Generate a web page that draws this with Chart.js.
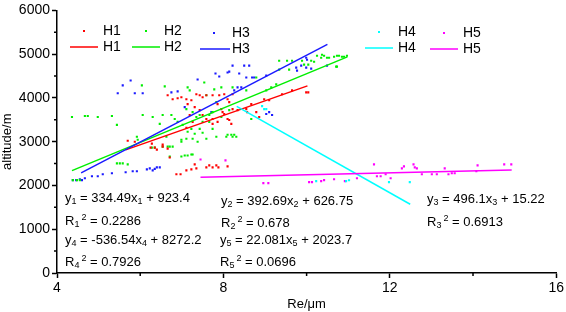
<!DOCTYPE html>
<html>
<head>
<meta charset="utf-8">
<script src="https://cdn.jsdelivr.net/npm/chart.js@4"></script>
<style>
  html, body { margin: 0; padding: 0; background: #fff; }
</style>
</head>
<body>
<canvas id="chart" width="566" height="312"></canvas>
<script>
const seriesNames = ["H1", "H2", "H3", "H4", "H5"];
const seriesColors = ["#ff0000", "#00ee00", "#1a1aff", "#00ffff", "#ff00ff"];

// scatter points, [Re (um), altitude (m)]
const h1Points = [
    [6.66, 4061], [6.78, 3971], [6.90, 3993], [6.99, 4016], [7.11, 3971], [7.23, 3948], [7.35, 4083],
    [7.43, 4061], [7.50, 4016], [7.59, 4061], [7.74, 4061], [7.90, 4061], [8.02, 4083], [8.10, 3971],
    [8.22, 4083], [7.86, 3858], [8.14, 3903], [7.14, 3858], [7.31, 3790],
    [7.19, 3610], [7.43, 3722], [7.50, 3610], [7.59, 3519], [7.26, 3452], [7.11, 3316], [7.74, 3407],
    [7.86, 3452], [8.10, 3519], [8.19, 3407], [8.22, 3745], [7.98, 3677], [8.55, 3745], [8.79, 3677],
    [8.86, 3564], [7.95, 3745], [8.02, 3632], [8.14, 3497], [8.34, 3722], [8.57, 3677], [8.67, 3858],
    [8.98, 3971], [9.10, 3948], [9.41, 4083], [9.65, 4174], [9.99, 4128], [10.04, 4128], [7.74, 3519],
    [5.70, 3023], [5.87, 3000], [6.25, 2865], [6.35, 2865], [6.40, 2820], [6.54, 2888], [6.66, 2843],
    [6.71, 2640], [6.28, 2955], [6.54, 2933],
    [6.87, 2256], [6.97, 2256], [7.11, 2346], [7.23, 2369], [7.31, 2482], [7.35, 2391], [7.59, 2414],
    [7.66, 2459], [7.74, 2414], [7.83, 2459], [7.88, 2414], [8.10, 2436]
];
const h2Points = [
    [4.36, 3564], [4.67, 3587], [4.74, 3587], [4.98, 3564], [5.32, 3587], [5.44, 3384], [6.04, 4286],
    [6.06, 3610], [5.92, 3113], [5.94, 3046], [6.30, 3564], [6.54, 3610], [6.59, 4264], [6.47, 3407],
    [6.75, 3610], [6.83, 3519], [6.63, 3113], [6.71, 2888], [6.78, 2888], [6.99, 3000], [6.90, 3452],
    [7.02, 3384],
    [7.14, 4241], [7.19, 4174], [7.26, 3677], [7.11, 3745], [7.35, 3564], [7.23, 3294], [7.31, 3181],
    [7.11, 3068], [7.38, 3000], [7.50, 3204], [7.59, 3068], [7.54, 4354], [7.78, 4196], [7.83, 3903],
    [7.83, 3113], [8.07, 3113], [8.22, 3113], [8.31, 3113], [8.22, 4241], [8.55, 4174], [8.79, 4467],
    [8.67, 3519], [8.14, 3722], [7.74, 3677], [7.66, 3452], [7.43, 3610], [7.95, 3564], [7.95, 4241],
    [7.59, 4061], [9.03, 4174], [9.15, 4241], [9.27, 4309], [9.34, 4647], [9.58, 4647], [9.65, 4850],
    [9.34, 4850], [7.43, 3294], [7.74, 3294], [8.10, 3158], [8.19, 3158], [8.26, 3158], [7.14, 3226],
    [7.26, 3068], [6.99, 3046], [7.50, 3452], [7.66, 3610],
    [9.53, 4850], [9.89, 4850], [9.94, 4760], [10.11, 4850], [10.18, 4828], [10.25, 4963], [10.35, 4918],
    [10.37, 4986], [10.42, 4963], [10.49, 4918], [10.54, 4918], [10.66, 4941], [10.73, 4963], [10.78, 4963],
    [10.85, 4941], [10.90, 4941], [10.97, 4963], [10.71, 4715], [10.73, 4715], [10.04, 4760],
    [6.71, 2662], [6.99, 2662], [7.07, 2685], [7.14, 2685], [7.23, 2707], [7.26, 2707],
    [6.28, 2865], [6.35, 2865], [6.54, 2888], [6.66, 2888],
    [4.38, 2121], [4.48, 2121], [4.55, 2121], [5.44, 2504], [5.51, 2504], [5.58, 2504], [5.70, 2482]
];
const h3Points = [
    [5.58, 4286], [5.77, 4399], [5.46, 4106], [5.87, 4106], [6.06, 4106], [6.75, 4128], [6.90, 4151],
    [7.38, 4422], [7.81, 4557], [7.90, 4489], [8.14, 4602], [8.22, 4738], [8.38, 4557], [8.50, 4738],
    [8.62, 4738], [8.55, 4467], [8.69, 4467], [8.34, 4241], [8.26, 4174], [7.71, 3677], [7.07, 3790],
    [9.03, 3632], [9.17, 3610], [9.10, 3677], [9.03, 4512], [8.74, 4467], [8.10, 4580], [8.43, 4241],
    [9.99, 4918], [10.01, 4873], [9.75, 4692], [9.87, 4738], [9.99, 4692], [10.11, 4670], [9.77, 4625],
    [10.49, 4738],
    [4.38, 2121], [4.46, 2121], [4.55, 2143], [4.60, 2121], [4.67, 2166], [4.84, 2211], [4.98, 2211],
    [5.10, 2256], [5.32, 2279], [5.65, 2301], [5.82, 2324], [5.92, 2324], [6.16, 2369], [6.23, 2391],
    [6.30, 2346], [6.40, 2414], [6.47, 2414], [6.35, 2380]
];
const h4Points = [
    [8.93, 3813], [8.98, 3745], [9.03, 3745], [10.23, 2098], [10.95, 2098], [11.02, 2120],
    [11.98, 2075], [12.48, 2075]
];
const h5Points = [
    [7.45, 2594], [8.05, 2572], [8.96, 2053], [9.08, 2053], [10.06, 2075], [10.13, 2075], [10.35, 2098],
    [10.42, 2121], [10.66, 2143], [10.92, 2098], [11.21, 2166], [11.62, 2482], [11.69, 2211], [11.78, 2211],
    [11.90, 2256], [12.02, 2166], [12.29, 2391], [12.34, 2436], [12.57, 2482], [12.60, 2414], [12.65, 2391],
    [12.77, 2256], [13.01, 2256], [13.13, 2256], [13.32, 2391], [13.41, 2256], [13.49, 2279], [13.56, 2279],
    [14.08, 2324], [14.11, 2459], [14.75, 2482], [14.92, 2482]
];
const allPoints = [h1Points, h2Points, h3Points, h4Points, h5Points];

// linear fits printed on the chart, and the x range each fit line covers
const fitSlope = [334.49, 392.69, 496.1, -536.54, 22.081];
const fitIntercept = [923.4, 626.75, 15.22, 8272.2, 2023.7];
const fitFrom = [5.65, 4.36, 4.58, 8.32, 7.45];
const fitTo = [10.02, 10.98, 10.50, 12.49, 14.93];

const xTicks = [4, 8, 12, 16];
const yTicks = [0, 1000, 2000, 3000, 4000, 5000, 6000];
const xMinorTicks = [6, 10, 14];
const yMinorTicks = [500, 1500, 2500, 3500, 4500, 5500];

// equation labels: runs of [text, "n" | "sub" | "sup"]
const equationLabels = [
    { x: 65, y: 198, runs: [["y", "n"], ["1", "sub"], [" = 334.49x", "n"], ["1", "sub"], [" + 923.4", "n"]] },
    { x: 65, y: 221, runs: [["R", "n"], ["1", "sub"], ["2", "sup"], [" = 0.2286", "n"]] },
    { x: 65, y: 240, runs: [["y", "n"], ["4", "sub"], [" = -536.54x", "n"], ["4", "sub"], [" + 8272.2", "n"]] },
    { x: 65, y: 262, runs: [["R", "n"], ["4", "sub"], ["2", "sup"], [" = 0.7926", "n"]] },
    { x: 221, y: 201, runs: [["y", "n"], ["2", "sub"], [" = 392.69x", "n"], ["2", "sub"], [" + 626.75", "n"]] },
    { x: 221, y: 223, runs: [["R", "n"], ["2", "sub"], ["2", "sup"], [" = 0.678", "n"]] },
    { x: 220, y: 240, runs: [["y", "n"], ["5", "sub"], [" = 22.081x", "n"], ["5", "sub"], [" + 2023.7", "n"]] },
    { x: 220, y: 262, runs: [["R", "n"], ["5", "sub"], ["2", "sup"], [" = 0.0696", "n"]] },
    { x: 427, y: 199, runs: [["y", "n"], ["3", "sub"], [" = 496.1x", "n"], ["3", "sub"], [" + 15.22", "n"]] },
    { x: 427, y: 222, runs: [["R", "n"], ["3", "sub"], ["2", "sup"], [" = 0.6913", "n"]] }
];

const FONT = "'Liberation Sans', Arial, sans-serif";

const datasets = [];
seriesNames.forEach((name, i) => {
    datasets.push({
        type: "scatter",
        label: name,
        data: allPoints[i].map(([x, y]) => ({ x, y })),
        backgroundColor: seriesColors[i],
        borderWidth: 0,
        pointStyle: "rect",
        pointRadius: 1.5,
        order: 10
    });
});
seriesNames.forEach((name, i) => {
    datasets.push({
        type: "line",
        label: name + " fit",
        data: [fitFrom[i], fitTo[i]].map(x => ({ x, y: fitSlope[i] * x + fitIntercept[i] })),
        borderColor: seriesColors[i],
        borderWidth: 1.5,
        pointRadius: 0,
        fill: false,
        order: 5 - i
    });
});

const legendLayout = {
    pointX: [84, 146, 214, 379, 444],
    lineFrom: [70, 132, 200, 365, 430],
    lineTo: [98, 160, 230, 393, 458],
    textX: [103, 164, 232, 398, 463],
    rowY: [31, 31, 33, 32, 33],
    lineY: [47, 47, 49, 48, 49]
};

const overlayPlugin = {
    id: "overlay",
    afterDraw(chart) {
        const ctx = chart.ctx;
        const xs = chart.scales.x, ys = chart.scales.y;
        ctx.save();
        // minor ticks
        ctx.strokeStyle = "#000";
        ctx.lineWidth = 1.5;
        ctx.beginPath();
        xMinorTicks.forEach(v => {
            const px = xs.getPixelForValue(v);
            ctx.moveTo(px, ys.bottom);
            ctx.lineTo(px, ys.bottom + 3);
        });
        yMinorTicks.forEach(v => {
            const py = ys.getPixelForValue(v);
            ctx.moveTo(xs.left, py);
            ctx.lineTo(xs.left - 3, py);
        });
        ctx.stroke();

        // legend
        ctx.textBaseline = "middle";
        ctx.textAlign = "left";
        ctx.font = "14px " + FONT;
        seriesNames.forEach((name, i) => {
            ctx.fillStyle = seriesColors[i];
            ctx.fillRect(legendLayout.pointX[i] - 1, legendLayout.rowY[i] - 1, 2, 2);
            ctx.strokeStyle = seriesColors[i];
            ctx.lineWidth = 1.5;
            ctx.beginPath();
            ctx.moveTo(legendLayout.lineFrom[i], legendLayout.lineY[i]);
            ctx.lineTo(legendLayout.lineTo[i], legendLayout.lineY[i]);
            ctx.stroke();
            ctx.fillStyle = "#000";
            ctx.fillText(name, legendLayout.textX[i], legendLayout.rowY[i]);
            ctx.fillText(name, legendLayout.textX[i], legendLayout.lineY[i]);
        });

        // fit equations
        equationLabels.forEach(label => {
            let x = label.x;
            label.runs.forEach(([text, kind]) => {
                let size = 13, dy = 0;
                if (kind === "sub") { size = 9; dy = 4; }
                if (kind === "sup") { size = 9; dy = -3; x += 2; }
                ctx.font = size + "px " + FONT;
                ctx.fillText(text, x, label.y + dy);
                x += ctx.measureText(text).width;
            });
        });
        ctx.restore();
    }
};

new Chart(document.getElementById("chart"), {
    data: { datasets },
    options: {
        responsive: false,
        animation: false,
        devicePixelRatio: 1,
        layout: { padding: { top: 7, right: 8, left: 0, bottom: 0 } },
        plugins: {
            legend: { display: false },
            tooltip: { enabled: false }
        },
        scales: {
            x: {
                type: "linear",
                min: 4,
                max: 16,
                afterBuildTicks: scale => { scale.ticks = xTicks.map(value => ({ value })); },
                afterFit: scale => { scale.height = 39; },
                ticks: { color: "#000", font: { family: FONT, size: 14 }, padding: 2, callback: v => String(v) },
                grid: { drawOnChartArea: false, tickLength: 5, tickColor: "#000", tickWidth: 1.5 },
                border: { color: "#000", width: 1.5 },
                title: { display: true, text: "Re/\u03bcm", color: "#000", font: { family: FONT, size: 13 }, padding: { top: 0, bottom: 0 } }
            },
            y: {
                type: "linear",
                min: 0,
                max: 6000,
                afterBuildTicks: scale => { scale.ticks = yTicks.map(value => ({ value })); },
                afterFit: scale => { scale.width = 57; },
                ticks: { color: "#000", font: { family: FONT, size: 14 }, padding: 2, callback: v => String(v) },
                grid: { drawOnChartArea: false, tickLength: 5, tickColor: "#000", tickWidth: 1.5 },
                border: { color: "#000", width: 1.5 },
                title: { display: true, text: "altitude/m", color: "#000", font: { family: FONT, size: 13 }, padding: { top: 0, bottom: 0 } }
            }
        }
    },
    plugins: [overlayPlugin]
});
</script>
</body>
</html>
